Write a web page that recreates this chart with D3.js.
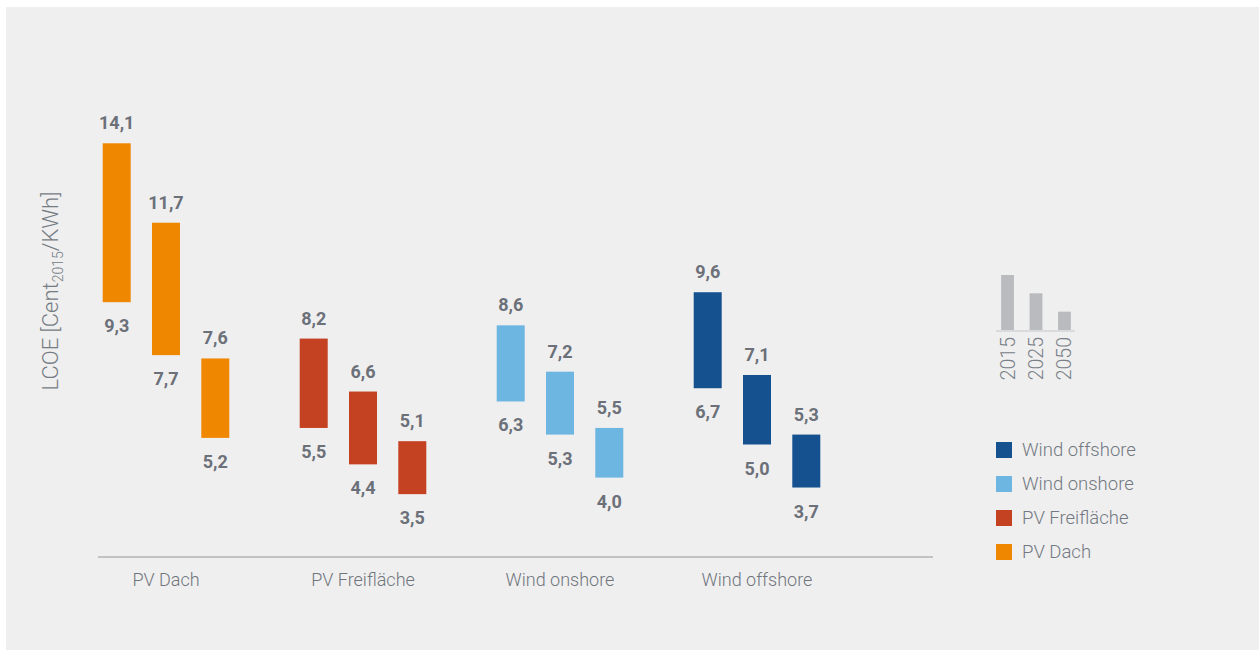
<!DOCTYPE html>
<html><head><meta charset="utf-8">
<script src="https://cdn.jsdelivr.net/npm/d3@7"></script>
<style>
html,body{margin:0;padding:0;background:#fff;}
svg{display:block;font-family:Roboto,"Open Sans",sans-serif;}
</style></head>
<body><svg id="c" width="1259" height="650"></svg>
<script>
const categories = ["PV Dach", "PV Freifläche", "Wind onshore", "Wind offshore"];
const years = ["2015", "2025", "2050"];
const highValues = [[14.1, 11.7, 7.6], [8.2, 6.6, 5.1], [8.6, 7.2, 5.5], [9.6, 7.1, 5.3]];
const lowValues  = [[9.3, 7.7, 5.2], [5.5, 4.4, 3.5], [6.3, 5.3, 4.0], [6.7, 5.0, 3.7]];
const colors = ["#f08700", "#c44122", "#6db6e2", "#15508f"];
const legendOrder = ["Wind offshore", "Wind onshore", "PV Freifläche", "PV Dach"];
const miniValues = [3, 2, 1];
const fmt = v => v.toFixed(1).replace(".", ",");

const svg = d3.select("#c");
svg.append("rect").attr("x", 6).attr("y", 7).attr("width", 1253).attr("height", 643).attr("fill", "#efefef");

const y = d3.scaleLinear().domain([0, 15]).range([610, 113.5]);
const x0 = d3.scaleBand().domain(categories).range([67.5, 855.5]);
const x1 = d3.scalePoint().domain(years).range([-49.3, 49.3]);
const bw = 28;
const labelColor = "#6b7079";

// axis line
svg.append("line").attr("x1", 98).attr("x2", 933).attr("y1", 557).attr("y2", 557)
  .attr("stroke", "#c0c2c4").attr("stroke-width", 2);

categories.forEach((c, ci) => {
  const cx = x0(c) + x0.bandwidth() / 2;
  const g = svg.append("g");
  years.forEach((yr, yi) => {
    const bx = cx + x1(yr);
    const hi = highValues[ci][yi], lo = lowValues[ci][yi];
    g.append("rect").attr("x", bx - bw / 2).attr("y", y(hi)).attr("width", bw)
      .attr("height", y(lo) - y(hi)).attr("fill", colors[ci]);
    g.append("text").attr("x", bx).attr("y", y(hi) - 14).attr("text-anchor", "middle")
      .attr("font-size", 18).attr("font-weight", 700).attr("fill", labelColor).text(fmt(hi));
    g.append("text").attr("x", bx).attr("y", y(lo) + 30).attr("text-anchor", "middle")
      .attr("font-size", 18).attr("font-weight", 700).attr("fill", labelColor).text(fmt(lo));
  });
  svg.append("text").attr("x", cx).attr("y", 586).attr("text-anchor", "middle")
    .attr("font-size", 18).attr("font-weight", 300).attr("fill", "#6f757d").text(c);
});

// y axis title
const yt = svg.append("text").attr("transform", "translate(58,291) rotate(-90)")
  .attr("text-anchor", "middle").attr("font-size", 22).attr("font-weight", 300).attr("fill", "#767c84");
yt.append("tspan").text("LCOE [Cent");
yt.append("tspan").attr("font-size", 14).attr("dy", 5).text("2015");
yt.append("tspan").attr("dy", -5).text("/KWh]");

// mini chart
const mx = d3.scaleBand().domain(years).range([994, 1078]).paddingInner(0.55).paddingOuter(0.25);
const my = d3.scaleLinear().domain([0, 3]).range([330, 275]);
svg.append("line").attr("x1", 996).attr("x2", 1075).attr("y1", 331).attr("y2", 331)
  .attr("stroke", "#d2d3d4").attr("stroke-width", 1.5);
years.forEach((yr, i) => {
  svg.append("rect").attr("x", mx(yr)).attr("y", my(miniValues[i])).attr("width", mx.bandwidth())
    .attr("height", my(0) - my(miniValues[i])).attr("fill", "#b9bbbe");
  const tx = mx(yr) + mx.bandwidth() / 2 + 7;
  svg.append("text").attr("transform", `translate(${tx},337) rotate(-90)`).attr("text-anchor", "end")
    .attr("font-size", 19.5).attr("font-weight", 300).attr("fill", "#7a8088").text(yr);
});

// legend
legendOrder.forEach((name, i) => {
  const ci = categories.indexOf(name);
  const cy = 450 + i * 34;
  svg.append("rect").attr("x", 996).attr("y", cy - 8).attr("width", 16).attr("height", 16).attr("fill", colors[ci]);
  svg.append("text").attr("x", 1022).attr("y", cy + 6).attr("font-size", 18.5).attr("font-weight", 300)
    .attr("fill", "#737982").text(name);
});
</script></body></html>
